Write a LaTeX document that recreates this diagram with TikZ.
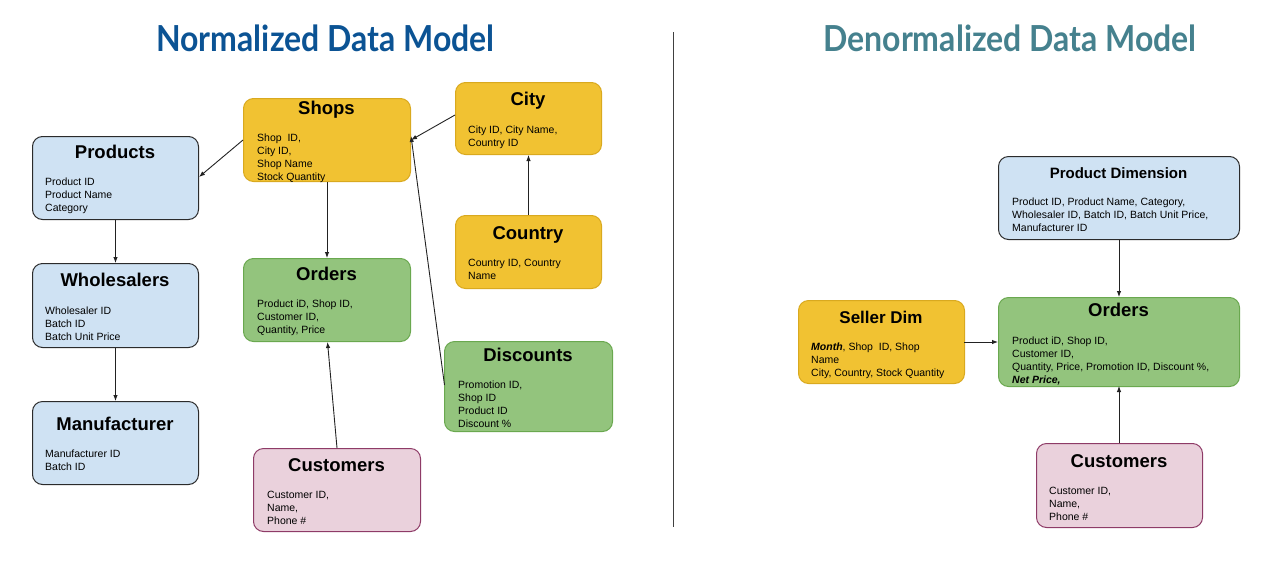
\documentclass[tikz,border=0pt]{standalone}
\usepackage{fontspec}
\setmainfont{Liberation Sans}
\newfontfamily\latofont{Lato}
\usetikzlibrary{arrows.meta}
\definecolor{bfill}{HTML}{CFE2F3}
\definecolor{bdraw}{HTML}{2B2B2B}
\definecolor{yfill}{HTML}{F1C232}
\definecolor{ydraw}{HTML}{D9A91F}
\definecolor{gfill}{HTML}{93C47D}
\definecolor{gdraw}{HTML}{6AA84F}
\definecolor{pfill}{HTML}{EAD1DC}
\definecolor{pdraw}{HTML}{8E3B67}
\definecolor{tblue}{HTML}{0B5394}
\definecolor{tteal}{HTML}{45818E}
\definecolor{arr}{HTML}{222222}
\tikzset{
  box/.style={rectangle, rounded corners=10pt, line width=1pt, anchor=north west, inner sep=0pt},
  bluebox/.style={box, fill=bfill, draw=bdraw},
  yelbox/.style={box, fill=yfill, draw=ydraw},
  grnbox/.style={box, fill=gfill, draw=gdraw},
  pnkbox/.style={box, fill=pfill, draw=pdraw},
  ttl/.style={anchor=base, inner sep=0pt, font=\fontsize{18.5}{20}\selectfont\bfseries},
  body/.style={anchor=north west, inner sep=0pt, align=left, font=\fontsize{10.5}{13}\selectfont},
  conn/.style={draw=arr, line width=0.9pt, -{Latex[length=6pt,width=4.5pt]}},
  head/.style={anchor=base, inner sep=0pt, yscale=1.12, font=\latofont\fontsize{32}{34}\selectfont\bfseries},
}
\begin{document}
\begin{tikzpicture}[x=1pt,y=-1pt]
\useasboundingbox (0,0) rectangle (1274,563);
% headings
\node[head, text=tblue] (h1) at (325.5,51) {Normalized Data Model};
\node[head, text=tteal] (h2) at (1010,51) {Denormalized Data Model};
\coordinate (divtop) at (673,32);
\coordinate (divbot) at (673,527);
\draw[line width=1pt, draw=black!75] (divtop) -- (divbot);

% ---------- Normalized ----------
\node[bluebox, minimum width=166pt, minimum height=83pt] (prod) at (32,136) {};
\node[ttl] (prodt) at (115,158.5) {Products};
\node[body] (prodb) at (45,177.5) {Product ID\\Product Name\\Category};

\node[bluebox, minimum width=166pt, minimum height=84pt] (whol) at (32,263) {};
\node[ttl] (wholt) at (115,286.5) {Wholesalers};
\node[body] (wholb) at (45,306.5) {Wholesaler ID\\Batch ID\\Batch Unit Price};

\node[bluebox, minimum width=166pt, minimum height=83pt] (manu) at (32,401) {};
\node[ttl] (manut) at (115,430.5) {Manufacturer};
\node[body] (manub) at (45,449.5) {Manufacturer ID\\Batch ID};

\node[yelbox, minimum width=167pt, minimum height=83pt] (shop) at (243,98) {};
\node[ttl] (shopt) at (326.5,114.5) {Shops};
\node[body] (shopb) at (257,133.5) {Shop~ ID,\\City ID,\\Shop Name\\Stock Quantity};

\node[grnbox, minimum width=167pt, minimum height=83pt] (ordl) at (243,258) {};
\node[ttl] (ordlt) at (326.5,280.5) {Orders};
\node[body] (ordlb) at (257,299.5) {Product iD, Shop ID,\\Customer ID,\\Quantity, Price};

\node[yelbox, minimum width=146pt, minimum height=72pt] (city) at (455,82) {};
\node[ttl] (cityt) at (528,105.5) {City};
\node[body] (cityb) at (468,125.5) {City ID, City Name,\\Country ID};

\node[yelbox, minimum width=146pt, minimum height=73pt] (ctry) at (455,215) {};
\node[ttl] (ctryt) at (528,239.5) {Country};
\node[body] (ctryb) at (468,258.5) {Country ID, Country\\Name};

\node[grnbox, minimum width=168pt, minimum height=90pt] (disc) at (444,341) {};
\node[ttl] (disct) at (528,361.5) {Discounts};
\node[body] (discb) at (458,380.5) {Promotion ID,\\Shop ID\\Product ID\\Discount \%};

\node[pnkbox, minimum width=167pt, minimum height=83pt] (custl) at (253,448) {};
\node[ttl] (custlt) at (336.5,471.5) {Customers};
\node[body] (custlb) at (267,490.5) {Customer ID,\\Name,\\Phone \#};

\coordinate (shopL) at (243,140);
\coordinate (prodR) at (199,177);
\draw[conn] (shopL) -- (prodR);
\draw[conn] (prod.south) -- (whol.north);
\draw[conn] (whol.south) -- (manu.north);
\draw[conn] (shop.south) -- (ordl.north);
\coordinate (cityL) at (455,115);
\coordinate (shopR1) at (411,140);
\draw[conn] (cityL) -- (shopR1);
\coordinate (discL) at (444.5,385);
\coordinate (shopR2) at (411,136);
\draw[conn] (discL) -- (shopR2);
\draw[conn] (ctry.north) -- (city.south);
\coordinate (custlT) at (337,448);
\coordinate (ordlB) at (327.5,342);
\draw[conn] (custlT) -- (ordlB);

% ---------- Denormalized ----------
\node[bluebox, minimum width=241pt, minimum height=83pt] (pdim) at (998,156) {};
\node[ttl, font=\fontsize{15}{18}\selectfont\bfseries] (pdimt) at (1118.5,178.5) {Product Dimension};
\node[body] (pdimb) at (1012,197.5) {Product ID, Product Name, Category,\\Wholesaler ID, Batch ID, Batch Unit Price,\\Manufacturer ID};

\node[yelbox, minimum width=166pt, minimum height=83pt] (sdim) at (798,300) {};
\node[ttl, font=\fontsize{17}{20}\selectfont\bfseries] (sdimt) at (881,323) {Seller Dim};
\node[body] (sdimb) at (811,342.5) {\textbf{\textit{Month}}, Shop~ ID, Shop\\Name\\City, Country, Stock Quantity};

\node[grnbox, minimum width=241pt, minimum height=89pt] (ordr) at (998,297) {};
\node[ttl] (ordrt) at (1118.5,316.5) {Orders};
\node[body] (ordrb) at (1012,336.5) {Product iD, Shop ID,\\Customer ID,\\Quantity, Price, Promotion ID, Discount \%,\\\textbf{\textit{Net Price,}}};

\node[pnkbox, minimum width=166pt, minimum height=84pt] (custr) at (1036,443) {};
\node[ttl] (custrt) at (1119,467.5) {Customers};
\node[body] (custrb) at (1049,486.5) {Customer ID,\\Name,\\Phone \#};

\draw[conn] (pdim.south) -- (ordr.north);
\coordinate (sdimR) at (964,342);
\coordinate (ordrL) at (998,342);
\draw[conn] (sdimR) -- (ordrL);
\coordinate (custrT) at (1119,443);
\coordinate (ordrB) at (1119,386);
\draw[conn] (custrT) -- (ordrB);
\end{tikzpicture}
\end{document}
